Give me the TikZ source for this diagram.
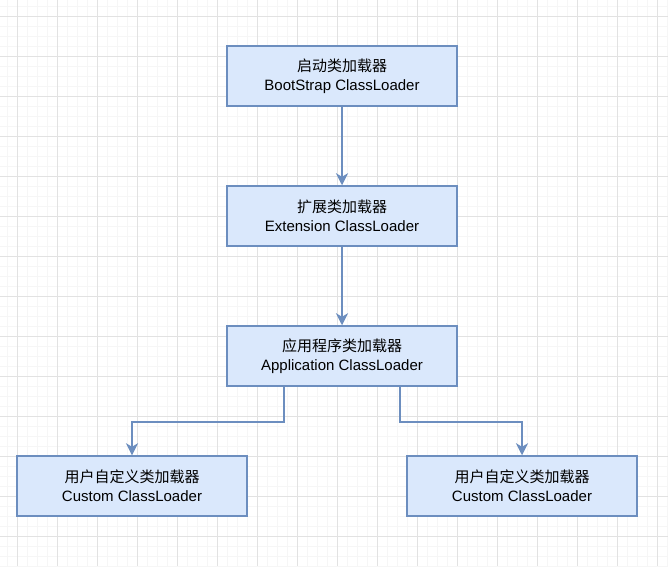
\documentclass[tikz,border=0pt]{standalone}
\usepackage{fontspec}
\setmainfont{Liberation Sans}
\newfontfamily\cjk{Noto Sans CJK SC}
\usetikzlibrary{arrows.meta,calc}
\definecolor{boxfill}{HTML}{DAE8FC}
\definecolor{boxline}{HTML}{6C8EBF}
\definecolor{gridmajor}{HTML}{E2E2E2}
\definecolor{gridminor}{HTML}{F6F6F6}
\tikzset{
  loader/.style={draw=boxline, fill=boxfill, line width=1.5pt, minimum width=230pt, minimum height=60pt, align=center, font=\fontsize{15pt}{19pt}\selectfont, inner sep=0pt},
  link/.style={draw=boxline, line width=1.5pt, -{Stealth[length=12pt,width=12pt,inset=3.5pt]}},
  gminor/.style={draw=gridminor, line width=0.8pt},
  gmajor/.style={draw=gridmajor, line width=1pt}
}
\begin{document}
\begin{tikzpicture}[x=1pt,y=-1pt]
\fill[white] (0,0) rectangle (668,566);
\useasboundingbox (0,0) rectangle (668,566);
\foreach \gx in {7,27,37,47,67,77,87,107,117,127,147,157,167,187,197,207,227,237,247,267,277,287,307,317,327,347,357,367,387,397,407,427,437,447,467,477,487,507,517,527,547,557,567,587,597,607,627,637,647,667}
  \draw[gminor] (\gx,0) -- (\gx,566);
\foreach \gy in {6,26,36,46,66,76,86,106,116,126,146,156,166,186,196,206,226,236,246,266,276,286,306,316,326,346,356,366,386,396,406,426,436,446,466,476,486,506,516,526,546,556,566}
  \draw[gminor] (0,\gy) -- (668,\gy);
\foreach \gx in {17,57,...,657}
  \draw[gmajor] (\gx,0) -- (\gx,566);
\foreach \gy in {16,56,...,556}
  \draw[gmajor] (0,\gy) -- (668,\gy);

\node[loader] (boot) at (342,76) {{\cjk 启动类加载器}\\BootStrap ClassLoader};
\node[loader] (ext) at (342,216) {{\cjk 扩展类加载器}\\Extension ClassLoader};
\node[loader] (app) at (342,356) {{\cjk 应用程序类加载器}\\Application ClassLoader};
\node[loader] (cusl) at (132,486) {{\cjk 用户自定义类加载器}\\Custom ClassLoader};
\node[loader] (cusr) at (522,486) {{\cjk 用户自定义类加载器}\\Custom ClassLoader};

\coordinate (exl) at ($(app.south west)!0.25!(app.south east)$);
\coordinate (exr) at ($(app.south west)!0.75!(app.south east)$);

\draw[link] (boot) -- (ext);
\draw[link] (ext) -- (app);
\draw[link] (exl) -- ++(0,35) -| (cusl.north);
\draw[link] (exr) -- ++(0,35) -| (cusr.north);
\end{tikzpicture}
\end{document}
